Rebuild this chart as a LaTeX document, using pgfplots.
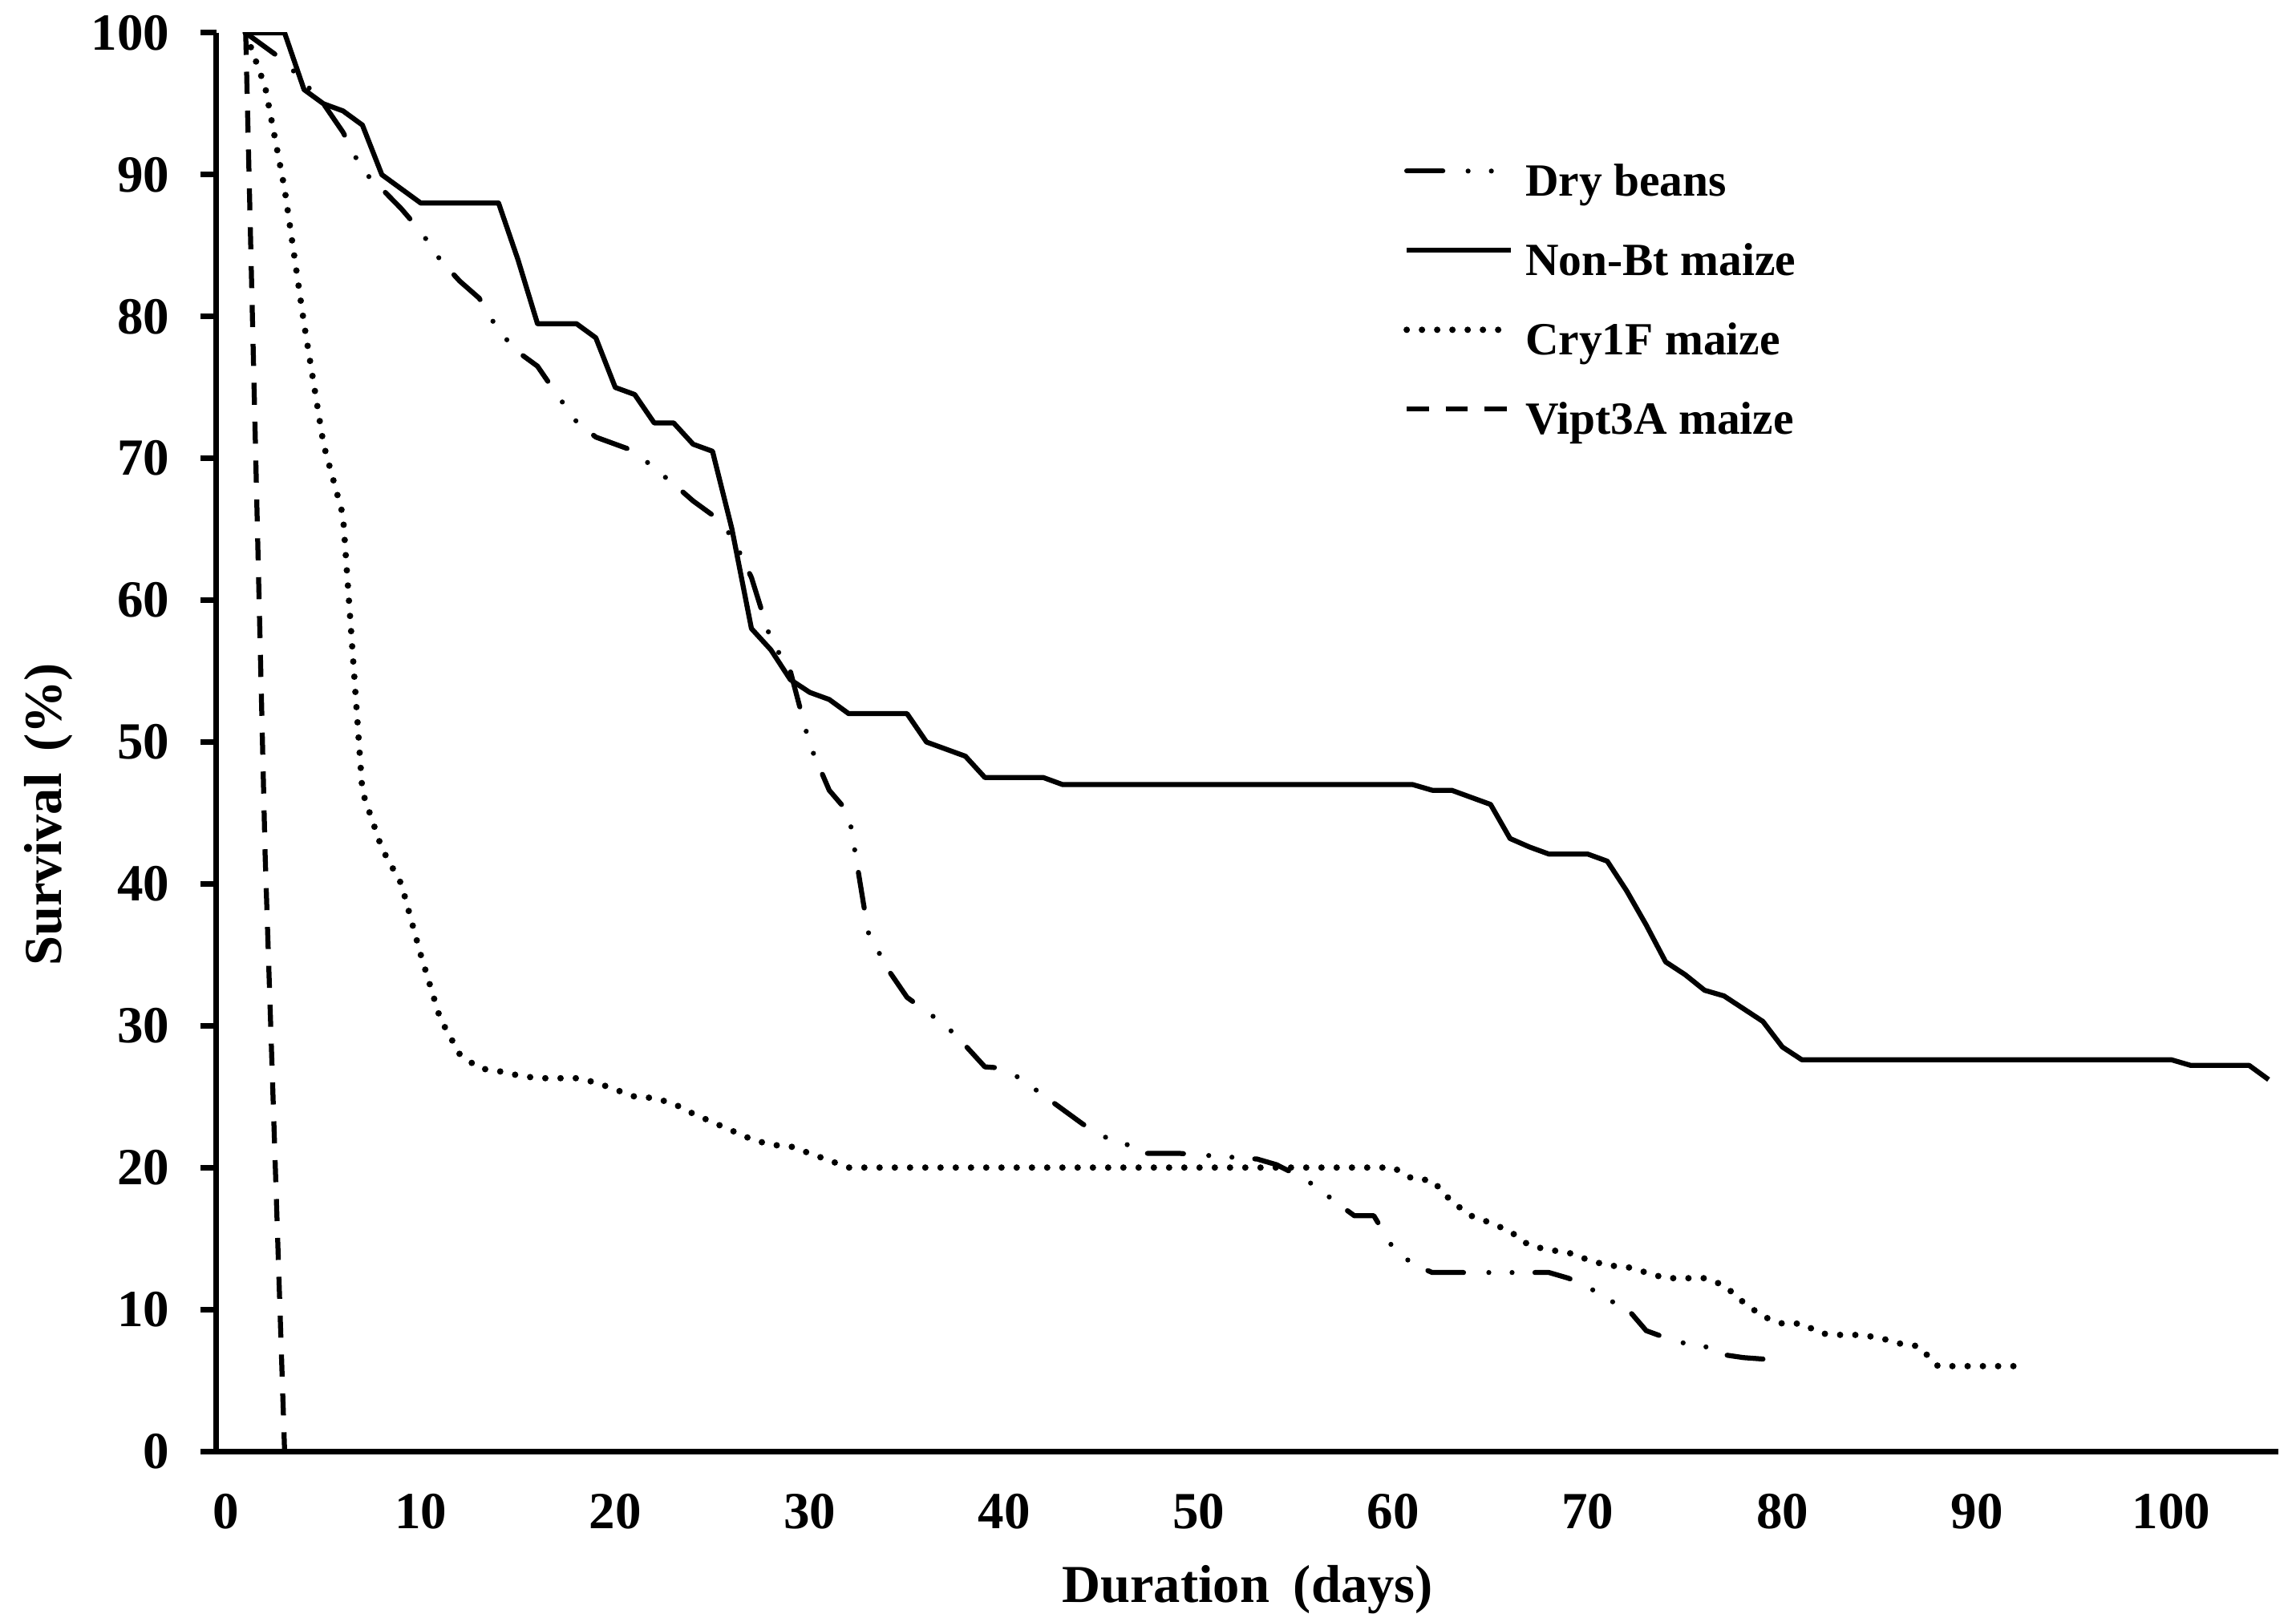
\documentclass[border=0pt]{standalone}
\usepackage{fontspec}
\setmainfont{Liberation Serif}
\usepackage{pgfplots}
\pgfplotsset{compat=1.18}
\begin{document}
\begin{tikzpicture}
\begin{axis}[
  at={(0,0)}, anchor=south west,
  scale only axis, width=514.2bp, height=353.8bp,
  xmin=-0.5, xmax=105.5, ymin=0, ymax=100,
  axis x line=bottom, axis y line=left,
  axis line style={-, line width=1.4bp, black},
  xtick={0,10,...,100}, ytick={0,10,...,100},
  x tick style={draw=none}, y tick style={line width=1.4bp, black},
  tick align=outside, major tick length=4bp,
  /pgf/number format/assume math mode=true,
  tick label style={font=\fontsize{13bp}{16bp}\selectfont\bfseries},
  yticklabel style={anchor=east, inner sep=0pt, xshift=-7.5bp},
  xticklabel style={anchor=north, inner sep=0pt, yshift=-6.4bp},
  xlabel={Duration\hspace{0.45em}(days)},
  xlabel style={at={(axis description cs:0.5,-0.1068)}, anchor=base, font=\fontsize{13.3bp}{16bp}\selectfont\bfseries},
  ylabel={Survival\hspace{0.4em}(\%)},
  ylabel style={at={(axis description cs:-0.07546,0.449)}, anchor=base, font=\fontsize{13.3bp}{16bp}\selectfont\bfseries},
  no markers,
  legend style={at={(axis description cs:0.5757,0.9078)}, anchor=north west, draw=none, fill=none, inner sep=0pt, outer sep=0pt, row sep=9.3bp, column sep=2.8bp, font=\fontsize{11.5bp}{13bp}\selectfont\bfseries, nodes={inner sep=0pt, text height=8bp, text depth=2.5bp}},
  legend cell align=left,
  legend image code/.code={\draw[#1] (0bp,3.4bp) -- (26bp,3.4bp);},
]
% Dry beans
\addplot[black, line width=1.25bp, line cap=round, line join=round, dash pattern=on 9bp off 6.3bp on 0bp off 5.8bp on 0bp off 5.7bp] coordinates {
(1,100)(2,99)(3,98)(4,96.5)(5,95)(6,93)(7,90.3)(8,89)(9,87.6)(10,86)
(11,84)(12,82.5)(13,81.3)(14,79)(15,77.5)(16,76.5)(17,74.5)(18,72.6)(19,71.5)(20,71)
(21,70.5)(22,69.3)(23,68.2)(24,67)(25,66)(26,64.5)(27,61.6)(28,57.2)(29,55)(30,49.8)
(31,46.6)(32,45)(33,36.6)(34,34)(35,32)(36,31)(37,30)(38,28.6)(39,27.1)(40,27)
(41,26.1)(42,25.1)(43,24.1)(44,23.1)(45,22.2)(46,21.9)(47,21)(48,21)(49,21)(50,20.9)
(51,20.8)(52,20.7)(53,20.6)(54,20.2)(55,19.5)(56,18.7)(57,17.6)(58,16.6)(59,16.6)(60,14.3)
(61,13.2)(62,12.6)(63,12.6)(64,12.6)(65,12.6)(66,12.6)(67,12.6)(68,12.6)(69,12.2)(70,11.6)
(71,10.7)(72,10.1)(73,8.5)(74,8)(75,7.6)(76,7.4)(77,6.8)(78,6.6)(79,6.5)(80,6)
};
\addlegendentry{Dry beans}
% Non-Bt maize
\addplot[black, line width=1.25bp, line join=round] coordinates {
(1,100)(2,100)(3,100)(4,96)(5,95)(6,94.5)(7,93.5)(8,90)(9,89)(10,88)
(11,88)(12,88)(13,88)(14,88)(15,84)(16,79.5)(17,79.5)(18,79.5)(19,78.5)(20,75)
(21,74.5)(22,72.5)(23,72.5)(24,71)(25,70.5)(26,65)(27,58)(28,56.5)(29,54.4)(30,53.5)
(31,53)(32,52)(33,52)(34,52)(35,52)(36,50)(37,49.5)(38,49)(39,47.5)(40,47.5)
(41,47.5)(42,47.5)(43,47)(44,47)(45,47)(46,47)(47,47)(48,47)(49,47)(50,47)
(51,47)(52,47)(53,47)(54,47)(55,47)(56,47)(57,47)(58,47)(59,47)(60,47)
(61,47)(62,46.6)(63,46.6)(64,46.1)(65,45.6)(66,43.2)(67,42.6)(68,42.1)(69,42.1)(70,42.1)
(71,41.6)(72,39.5)(73,37.1)(74,34.5)(75,33.6)(76,32.5)(77,32.1)(78,31.2)(79,30.3)(80,28.5)
(81,27.6)(82,27.6)(83,27.6)(84,27.6)(85,27.6)(86,27.6)(87,27.6)(88,27.6)(89,27.6)(90,27.6)
(91,27.6)(92,27.6)(93,27.6)(94,27.6)(95,27.6)(96,27.6)(97,27.6)(98,27.6)(99,27.6)(100,27.6)
(101,27.2)(102,27.2)(103,27.2)(104,27.2)(105,26.2)
};
\addlegendentry{Non-Bt maize}
% Cry1F maize
\addplot[black, line width=1.6bp, line cap=round, line join=round, dash pattern=on 0bp off 3.8bp] coordinates {
(1,100)(2,96.2)(3,89)(4,79.5)(5,71)(6,66)(7,46.5)(8,42.5)(9,40)(10,35)
(11,30.5)(12,28)(13,27)(14,26.8)(15,26.5)(16,26.3)(17,26.3)(18,26.3)(19,26)(20,25.5)
(21,25)(22,24.9)(23,24.5)(24,23.8)(25,23.2)(26,22.6)(27,22)(28,21.6)(29,21.5)(30,21)
(31,20.5)(32,20)(33,20)(34,20)(35,20)(36,20)(37,20)(38,20)(39,20)(40,20)
(41,20)(42,20)(43,20)(44,20)(45,20)(46,20)(47,20)(48,20)(49,20)(50,20)
(51,20)(52,20)(53,20)(54,20)(55,20)(56,20)(57,20)(58,20)(59,20)(60,20)
(61,19.2)(62,19.1)(63,17.6)(64,16.6)(65,16.1)(66,15.5)(67,14.5)(68,14.2)(69,14)(70,13.5)
(71,13.1)(72,13)(73,12.6)(74,12.2)(75,12.2)(76,12.2)(77,11.7)(78,10.5)(79,9.5)(80,9)
(81,9)(82,8.3)(83,8.2)(84,8.2)(85,8)(86,7.6)(87,7.4)(88,6)(89,6)(90,6)
(91,6)(92,6)
};
\addlegendentry{Cry1F maize}
% Vipt3A maize
\addplot[black, line width=1.25bp, dash pattern=on 5.5bp off 4.2bp] coordinates {
(1,100)(2,42)(3,0)
};
\addlegendentry{Vipt3A maize}
\end{axis}
\pgfresetboundingbox
\useasboundingbox (-54bp,-42.6bp) rectangle (518.6bp,362bp);
\end{tikzpicture}
\end{document}
